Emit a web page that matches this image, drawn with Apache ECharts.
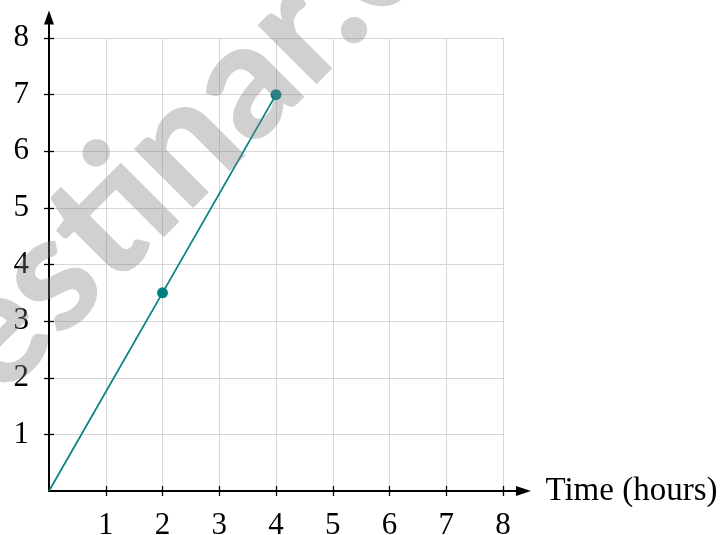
<!DOCTYPE html>
<html>
<head>
<meta charset="utf-8">
<script src="https://cdn.jsdelivr.net/npm/echarts@6/dist/echarts.min.js"></script>
<style>html,body{margin:0;padding:0;background:#fff}#c{width:725px;height:535px}</style>
</head>
<body>
<div id="c"></div>
<script>
// Data
const timeHours = [0, 2, 4];
const distance = [0, 3.5, 7];
const xTicks = [1, 2, 3, 4, 5, 6, 7, 8];
const yTicks = [1, 2, 3, 4, 5, 6, 7, 8];
const xName = 'Time (hours)';
const watermark = 'testinar.com';

const FONT = 'Liberation Serif';
const TEAL = '#008080';
const unitX = 56.75, unitY = 56.625;
const left = 49, bottom = 44;
const ext = 8.36;

const chart = echarts.init(document.getElementById('c'), null, {renderer: 'canvas'});

const seriesData = timeHours.map((t, i) => i === 0 ? {value: [t, distance[i]], symbol: 'none'} : [t, distance[i]]);

chart.setOption({
  animation: false,
  backgroundColor: '#fff',
  grid: [
    {left: left, bottom: bottom, width: unitX * 8, height: unitY * 8, outerBoundsMode: 'none', containLabel: false},
    {left: left, bottom: bottom, width: unitX * ext, height: unitY * ext, outerBoundsMode: 'none', containLabel: false}
  ],
  xAxis: [
    {
      gridIndex: 0, type: 'value', min: 0, max: 8, interval: 1,
      axisLine: {show: true, lineStyle: {color: '#000', width: 2}},
      axisTick: {show: true, length: 5, customValues: xTicks, lineStyle: {color: '#000', width: 1.3}},
      axisLabel: {show: true, margin: 19, fontFamily: FONT, fontSize: 31, color: '#000',
        customValues: xTicks},
      splitLine: {show: true, lineStyle: {color: '#d6d6d6', width: 1}}
    },
    {
      gridIndex: 1, type: 'value', min: 0, max: ext,
      axisLine: {show: true, symbol: ['none', 'triangle'], symbolSize: [10, 15], lineStyle: {color: '#000', width: 2}},
      axisTick: {show: true, inside: true, length: 5, customValues: xTicks, lineStyle: {color: '#000', width: 1.3}},
      axisLabel: {show: false},
      splitLine: {show: false},
      name: xName, nameLocation: 'end', nameGap: 22,
      nameTextStyle: {fontFamily: FONT, fontSize: 33, color: '#000', align: 'left', verticalAlign: 'middle'}
    }
  ],
  yAxis: [
    {
      gridIndex: 0, type: 'value', min: 0, max: 8, interval: 1,
      axisLine: {show: true, lineStyle: {color: '#000', width: 2}},
      axisTick: {show: true, length: 5, customValues: yTicks, lineStyle: {color: '#000', width: 1.3}},
      axisLabel: {show: true, margin: 20, fontFamily: FONT, fontSize: 31, color: '#000',
        customValues: yTicks},
      splitLine: {show: true, lineStyle: {color: '#d6d6d6', width: 1}}
    },
    {
      gridIndex: 1, type: 'value', min: 0, max: ext,
      axisLine: {show: true, symbol: ['none', 'triangle'], symbolSize: [10, 14], lineStyle: {color: '#000', width: 2}},
      axisTick: {show: true, inside: true, length: 5, customValues: yTicks, lineStyle: {color: '#000', width: 1.3}},
      axisLabel: {show: false},
      splitLine: {show: false}
    }
  ],
  series: [{
    type: 'line', xAxisIndex: 0, yAxisIndex: 0,
    data: seriesData,
    symbol: 'circle', symbolSize: 11, showAllSymbol: true,
    lineStyle: {color: TEAL, width: 1.7},
    itemStyle: {color: TEAL},
    z: 5
  }],
  graphic: [{
    type: 'text', z: 100, silent: true,
    x: 238, y: 89, rotation: 45 * Math.PI / 180,
    style: {text: watermark, fontFamily: 'Lato', fontWeight: 900, fontSize: 162,
      fill: 'rgba(128,128,128,0.37)', align: 'center', verticalAlign: 'middle'}
  }]
});
</script>
</body>
</html>
